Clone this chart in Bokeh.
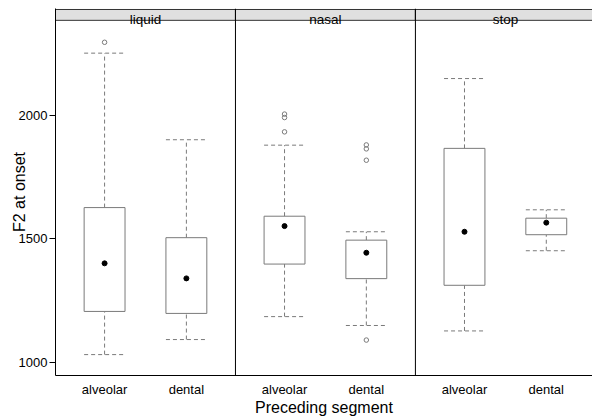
from bokeh.plotting import figure
from bokeh.models import FixedTicker, Span, Range1d, ColumnDataSource
from bokeh.core.properties import value
from bokeh.embed import file_html
from bokeh.resources import INLINE

panels = ["liquid", "nasal", "stop"]
segments = ["alveolar", "dental"]
# order: liquid-alveolar, liquid-dental, nasal-alveolar, nasal-dental, stop-alveolar, stop-dental
lower_whisker = [1030, 1091, 1184, 1148, 1126, 1451]
q1 = [1205, 1197, 1397, 1338, 1311, 1516]
median = [1400, 1339, 1551, 1443, 1528, 1565]
q3 = [1626, 1504, 1591, 1494, 1866, 1583]
upper_whisker = [2252, 1901, 1879, 1528, 2149, 1617]
outlier_group = [0, 2, 2, 2, 3, 3, 3, 3]
outlier_value = [2296, 2005, 1991, 1933, 1880, 1864, 1818, 1089]
y_ticks = [1000, 1500, 2000]

FONT = "Liberation Sans"
PANEL_W = 2.2
BOX_W = 0.5
STRIP_LO, STRIP_HI = 2385, 2429

xs = []
labels = []
for i, _ in enumerate(panels):
    for j, seg in enumerate(segments):
        xs.append(round(i * PANEL_W + 0.6 + j, 6))
        labels.append(seg)

p = figure(width=592, height=418, output_backend="svg", toolbar_location=None,
           x_range=Range1d(0, 6.565), y_range=Range1d(945.3, 2433),
           min_border_left=55, min_border_right=0, min_border_top=8, min_border_bottom=40)
p.outline_line_color = None
p.xgrid.visible = False
p.ygrid.visible = False
p.background_fill_color = "white"
p.border_fill_color = "white"

src = ColumnDataSource(dict(x=xs, lw=lower_whisker, q1=q1, med=median, q3=q3, uw=upper_whisker))
grey = "#7a7a7a"
src.data["xl"] = [x - BOX_W / 2 for x in xs]
src.data["xr"] = [x + BOX_W / 2 for x in xs]
# whiskers
p.segment(x0="x", y0="q3", x1="x", y1="uw", source=src, line_color=grey, line_dash="4 3", line_width=1)
p.segment(x0="x", y0="lw", x1="x", y1="q1", source=src, line_color=grey, line_dash="4 3", line_width=1)
p.segment(x0="xl", y0="uw", x1="xr", y1="uw", source=src, line_color=grey, line_dash="4 3", line_width=1)
p.segment(x0="xl", y0="lw", x1="xr", y1="lw", source=src, line_color=grey, line_dash="4 3", line_width=1)
# boxes
p.quad(left="xl", right="xr", bottom="q1", top="q3", source=src, fill_color="white",
       line_color=grey, line_width=1)
# medians
p.scatter(x="x", y="med", source=src, size=5, fill_color="black", line_color="black", marker="circle")
# outliers
p.scatter(x=[xs[g] for g in outlier_group], y=outlier_value, size=4.5, marker="circle",
          fill_color=None, line_color=grey, line_width=1)

# panel dividers
for i in range(1, len(panels)):
    p.add_layout(Span(location=i * PANEL_W, dimension="height", line_color="black", line_width=1))

# strips
lefts = [i * PANEL_W for i in range(len(panels))]
rights = [(i + 1) * PANEL_W for i in range(len(panels))]
centers = [(i + 0.5) * PANEL_W for i in range(len(panels))]
p.quad(left=lefts, right=rights, bottom=STRIP_LO, top=STRIP_HI, fill_color="#e0e0e0",
       line_color="#333333", line_width=1)
p.text(x=centers, y=[STRIP_LO + 2] * len(panels), text=panels,
       text_align="center", text_baseline="alphabetic", text_font=value(FONT), text_font_size="13.5px",
       text_color="black")

# axes
p.yaxis.ticker = FixedTicker(ticks=y_ticks)
p.yaxis.major_tick_out = 6
p.yaxis.major_tick_in = 0
p.yaxis.minor_tick_line_color = None
p.yaxis.axis_line_color = "black"
p.yaxis.major_tick_line_color = "black"
p.yaxis.major_label_text_font = FONT
p.yaxis.major_label_text_font_size = "13px"
p.yaxis.major_label_text_color = "black"
p.yaxis.major_label_standoff = 2
p.yaxis.axis_label = "F2 at onset"
p.yaxis.axis_label_text_font = FONT
p.yaxis.axis_label_text_font_size = "16px"
p.yaxis.axis_label_text_font_style = "normal"
p.yaxis.axis_label_text_color = "black"
p.yaxis.axis_label_standoff = -12

p.xaxis.ticker = FixedTicker(ticks=xs)
p.xaxis.major_label_overrides = {x: l for x, l in zip(xs, labels)}
p.xaxis.major_tick_out = 0
p.xaxis.major_tick_in = 0
p.xaxis.minor_tick_line_color = None
p.xaxis.axis_line_color = "black"
p.xaxis.major_label_text_font = FONT
p.xaxis.major_label_text_font_size = "13px"
p.xaxis.major_label_text_color = "black"
p.xaxis.major_label_standoff = 6
p.xaxis.axis_label = "Preceding segment"
p.xaxis.axis_label_text_font = FONT
p.xaxis.axis_label_text_font_size = "16px"
p.xaxis.axis_label_text_font_style = "normal"
p.xaxis.axis_label_text_color = "black"
p.xaxis.axis_label_standoff = -1

open("out.html", "w").write(file_html(p, INLINE))
